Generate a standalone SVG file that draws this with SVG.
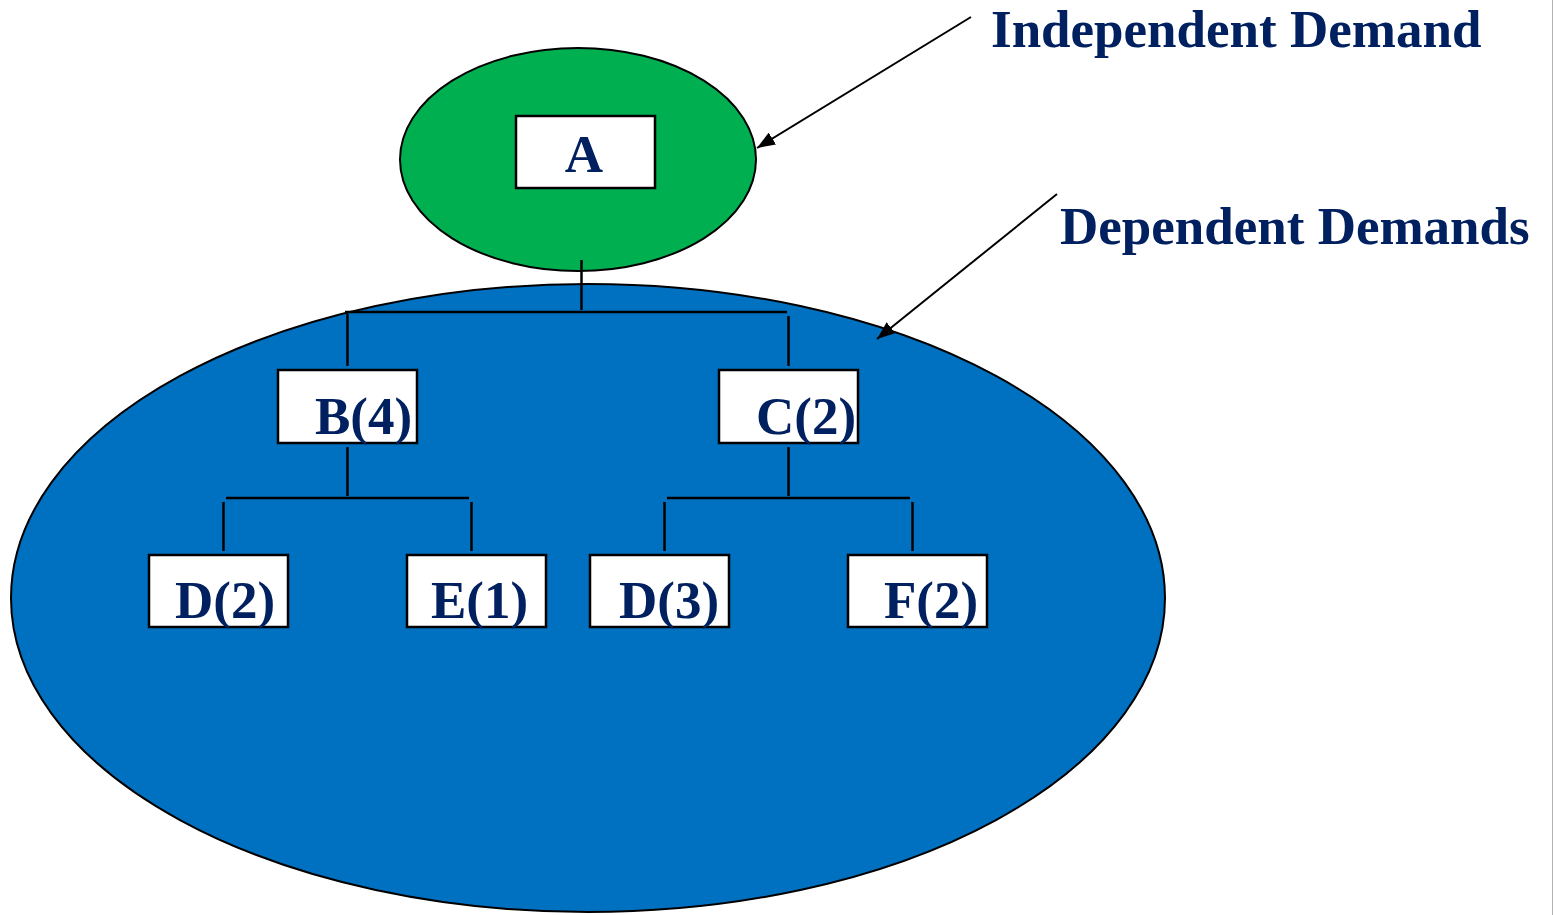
<svg xmlns="http://www.w3.org/2000/svg" width="1554" height="915" viewBox="0 0 1554 915">
  <style>
    .lbl { font-family: "Liberation Serif", "Times New Roman", serif; font-weight: bold; fill: #002060; }
    .node { font-size: 53px; }
    .title { font-size: 53px; }
    .box { fill: #ffffff; stroke: #000000; stroke-width: 2.5; }
    .wire { stroke: #000000; stroke-width: 2.5; fill: none; }
    .ptr { stroke: #000000; stroke-width: 2; fill: none; }
  </style>
  <defs>
    <marker id="head" viewBox="0 0 18 14" refX="18" refY="7" markerWidth="18" markerHeight="14" markerUnits="userSpaceOnUse" orient="auto">
      <path d="M0,0 L18,7 L0,14 Z" fill="#000000"/>
    </marker>
  </defs>

  <rect x="0" y="0" width="1554" height="915" fill="#ffffff"/>
  <line x1="1552.5" y1="0" x2="1552.5" y2="915" stroke="#b4b4b4" stroke-width="1"/>

  <!-- dependent-demand region -->
  <g id="dependent-region">
    <ellipse cx="588" cy="598" rx="577" ry="314" fill="#0070C0" stroke="#000000" stroke-width="2"/>
  </g>

  <!-- independent-demand region -->
  <g id="independent-region">
    <ellipse cx="578" cy="159.5" rx="178" ry="111.5" fill="#00B050" stroke="#000000" stroke-width="2"/>
  </g>

  <!-- product structure tree links -->
  <g id="connectors">
    <line class="wire" x1="581.5" y1="260" x2="581.5" y2="310"/>
    <line class="wire" x1="345" y1="312" x2="787" y2="312"/>
    <line class="wire" x1="347.5" y1="314" x2="347.5" y2="366"/>
    <line class="wire" x1="788.5" y1="316" x2="788.5" y2="366"/>

    <line class="wire" x1="347.5" y1="447" x2="347.5" y2="496"/>
    <line class="wire" x1="226" y1="498" x2="469" y2="498"/>
    <line class="wire" x1="223.5" y1="502" x2="223.5" y2="551"/>
    <line class="wire" x1="471.5" y1="502" x2="471.5" y2="551"/>

    <line class="wire" x1="788.5" y1="447" x2="788.5" y2="496"/>
    <line class="wire" x1="667" y1="498" x2="910" y2="498"/>
    <line class="wire" x1="664.5" y1="502" x2="664.5" y2="551"/>
    <line class="wire" x1="912.5" y1="502" x2="912.5" y2="551"/>

    <line class="ptr" x1="971" y1="17" x2="757" y2="148" marker-end="url(#head)"/>
    <line class="ptr" x1="1057" y1="194" x2="877" y2="339" marker-end="url(#head)"/>
  </g>

  <g id="node-A">
    <rect class="box" x="516" y="116" width="139" height="72"/>
    <text class="lbl node" x="584" y="172" text-anchor="middle">A</text>
  </g>
  <g id="node-B">
    <rect class="box" x="278" y="370" width="139" height="73"/>
    <text class="lbl node" x="315" y="434">B(4)</text>
  </g>
  <g id="node-C">
    <rect class="box" x="719" y="370" width="139" height="73"/>
    <text class="lbl node" x="756" y="434">C(2)</text>
  </g>
  <g id="node-D2">
    <rect class="box" x="149" y="555" width="139" height="72"/>
    <text class="lbl node" x="175" y="618">D(2)</text>
  </g>
  <g id="node-E1">
    <rect class="box" x="407" y="555" width="139" height="72"/>
    <text class="lbl node" x="431" y="618">E(1)</text>
  </g>
  <g id="node-D3">
    <rect class="box" x="590" y="555" width="139" height="72"/>
    <text class="lbl node" x="619" y="618">D(3)</text>
  </g>
  <g id="node-F2">
    <rect class="box" x="848" y="555" width="139" height="72"/>
    <text class="lbl node" x="884" y="618">F(2)</text>
  </g>

  <g id="label-independent">
    <text class="lbl title" x="991" y="47">Independent Demand</text>
  </g>
  <g id="label-dependent">
    <text class="lbl title" x="1060" y="244">Dependent Demands</text>
  </g>
</svg>
